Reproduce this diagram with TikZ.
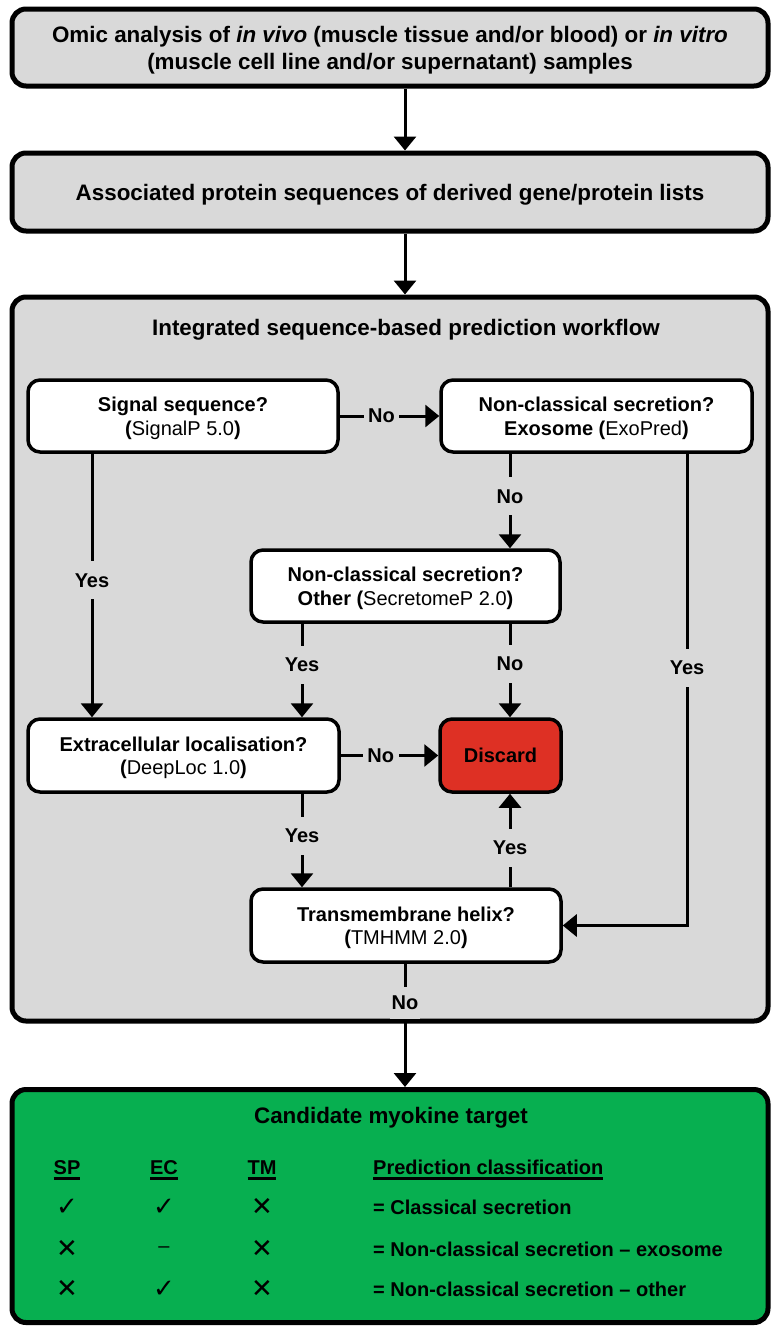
\documentclass[tikz,border=0pt]{standalone}
\usepackage{fontspec}
\setmainfont{Liberation Sans}
\newfontfamily\symf{DejaVu Sans}
\usetikzlibrary{arrows.meta}
\definecolor{boxgray}{HTML}{D9D9D9}
\definecolor{discred}{HTML}{DE3024}
\definecolor{candgreen}{HTML}{07AF50}
\newcommand{\thul}[1]{\setbox0=\hbox{#1}\leavevmode\rlap{\rule[-5.5pt]{\wd0}{3pt}}\box0}
\begin{document}
\begin{tikzpicture}[x=1pt,y=-1pt,
  outerbox/.style={draw, line width=5pt, rounded corners=14pt, fill=boxgray, minimum width=756pt, inner sep=0pt, align=center, text depth=0pt, font=\bfseries\fontsize{22.4}{27}\selectfont},
  innerbox/.style={draw, line width=3.5pt, rounded corners=12pt, fill=white, minimum width=310pt, minimum height=72pt, inner sep=0pt, align=center, text depth=0pt, font=\fontsize{20}{23.5}\selectfont},
  conn/.style={line width=3pt},
  arr/.style={conn, -{Triangle[width=22pt,length=14pt]}},
  vlbl/.style={fill=boxgray, inner xsep=2pt, inner ysep=12pt, font=\bfseries\fontsize{20}{20}\selectfont},
  hlbl/.style={fill=boxgray, inner xsep=4.5pt, inner ysep=2pt, font=\bfseries\fontsize{20}{20}\selectfont},
  titl/.style={text depth=0pt, font=\bfseries\fontsize{22.4}{24}\selectfont},
  tabh/.style={anchor=base, inner sep=0pt, font=\bfseries\fontsize{20}{20}\selectfont},
  sym/.style={inner sep=0pt, font=\symf\fontsize{26}{26}\selectfont}
]
\useasboundingbox (0,0) rectangle (772,1326);

% outer boxes
\node[outerbox, minimum height=77pt] (omic) at (390,47.5) {Omic analysis of \textit{in vivo} (muscle tissue and/or blood) or \textit{in vitro}\\(muscle cell line and/or supernatant) samples};
\node[outerbox, minimum height=78pt] (assoc) at (390,192) {Associated protein sequences of derived gene/protein lists};
\node[outerbox, minimum height=724pt] (wf) at (390,659) {};
\node[titl] (wft) at (406,327) {Integrated sequence-based prediction workflow};
\node[outerbox, fill=candgreen, minimum height=233pt] (cand) at (390,1206) {};
\node[titl] (candt) at (391,1115) {Candidate myokine target};

% inner boxes
\node[innerbox] (sig) at (183,416) {\textbf{Signal sequence?}\\\textbf{(}SignalP 5.0\textbf{)}};
\node[innerbox, minimum width=311pt] (exo) at (596.5,416) {\textbf{Non-classical secretion?}\\\textbf{Exosome (}ExoPred\textbf{)}};
\node[innerbox, minimum width=309pt] (sec) at (405.5,586) {\textbf{Non-classical secretion?}\\\textbf{Other (}SecretomeP 2.0\textbf{)}};
\node[innerbox, minimum width=311pt, minimum height=73pt] (ext) at (183.5,755.5) {\textbf{Extracellular localisation?}\\\textbf{(}DeepLoc 1.0\textbf{)}};
\node[innerbox, fill=discred, minimum width=121pt, minimum height=73pt] (disc) at (500.5,755.5) {\textbf{Discard}};
\node[innerbox, minimum height=73pt] (tm) at (406,925.5) {\textbf{Transmembrane helix?}\\\textbf{(}TMHMM 2.0\textbf{)}};

% x positions of vertical connectors
\coordinate (xa) at (92,0);
\coordinate (xb) at (302,0);
\coordinate (xc) at (510,0);
\coordinate (xd) at (687,0);
\coordinate (xm) at (405,0);

% connectors
\draw[arr] (omic.south -| xm) -- (assoc.north -| xm);
\draw[arr] (assoc.south -| xm) -- (wf.north -| xm);
\draw[arr] (sig.east) -- node[hlbl,pos=0.42]{No} (exo.west);
\draw[arr] (sig.south -| xa) -- node[vlbl,pos=0.48]{Yes} (ext.north -| xa);
\draw[arr] (exo.south -| xc) -- node[vlbl,pos=0.45]{No} (sec.north -| xc);
\draw[arr] (exo.south -| xd) |- node[vlbl,pos=0.227]{Yes} (tm.east);
\draw[arr] (sec.south -| xb) -- node[vlbl,pos=0.44]{Yes} (ext.north -| xb);
\draw[arr] (sec.south -| xc) -- node[vlbl,pos=0.43]{No} (disc.north -| xc);
\draw[arr] (ext.east) -- node[hlbl,pos=0.41]{No} (disc.west);
\draw[arr] (ext.south -| xb) -- node[vlbl,pos=0.45]{Yes} (tm.north -| xb);
\draw[arr] (tm.north -| xc) -- node[vlbl,pos=0.42]{Yes} (disc.south -| xc);
\draw[arr] (tm.south -| xm) -- node[vlbl,inner ysep=9pt,pos=0.32]{No} (cand.north -| xm);

% table
\node[tabh] (hsp) at (67,1174) {\thul{SP}};
\node[tabh] (hec) at (164,1174) {\thul{EC}};
\node[tabh] (htm) at (262,1174) {\thul{TM}};
\node[tabh, anchor=base west] (hpc) at (373,1174) {\thul{Prediction classification}};

\node[sym] (a1) at (67,1207) {✓};
\node[sym] (b1) at (164,1207) {✓};
\node[sym] (c1) at (262,1207) {✕};
\node[tabh, anchor=base west] (t1) at (373,1214) {= Classical secretion};

\node[sym] (a2) at (67,1249) {✕};
\node[inner sep=0pt, font=\fontsize{20}{20}\selectfont] (b2) at (164,1250) {–};
\node[sym] (c2) at (262,1249) {✕};
\node[tabh, anchor=base west] (t2) at (373,1256) {= Non-classical secretion – exosome};

\node[sym] (a3) at (67,1289) {✕};
\node[sym] (b3) at (164,1289) {✓};
\node[sym] (c3) at (262,1289) {✕};
\node[tabh, anchor=base west] (t3) at (373,1296) {= Non-classical secretion – other};
\end{tikzpicture}
\end{document}
